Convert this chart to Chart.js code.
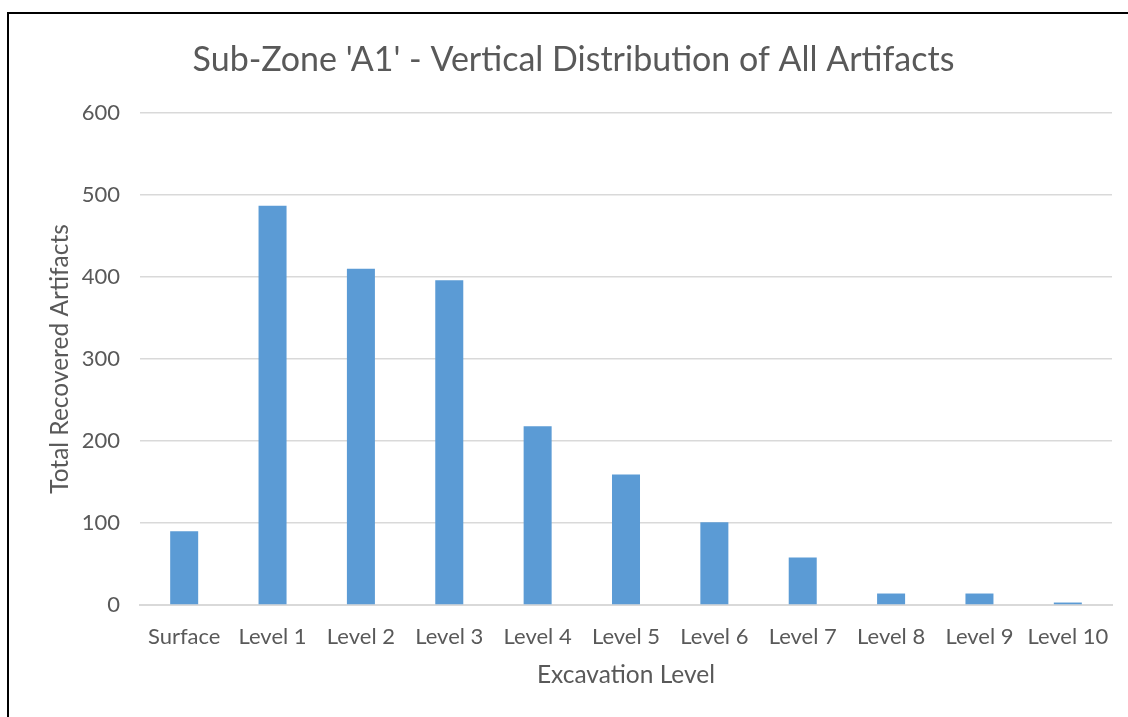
<!DOCTYPE html>
<html>
<head>
<meta charset="utf-8">
<script src="https://cdn.jsdelivr.net/npm/chart.js@4"></script>
<style>
  body { margin: 0; background: #fff; }
  #wrap { position: relative; width: 1128px; height: 717px; }
  #frame {
    position: absolute; left: 7px; top: 12px; right: -10px; bottom: -10px;
    border-left: 2px solid #000; border-top: 2px solid #000;
    pointer-events: none;
  }
  canvas { position: absolute; left: 0; top: 0; }
</style>
</head>
<body>
<div id="wrap">
  <canvas id="chart" width="1128" height="717"></canvas>
  <div id="frame"></div>
</div>
<script>
const levels = ["Surface", "Level 1", "Level 2", "Level 3", "Level 4", "Level 5",
  "Level 6", "Level 7", "Level 8", "Level 9", "Level 10"];
const artifactCounts = [90, 487, 410, 396, 218, 159, 101, 58, 14, 14, 3];
const yTicks = [0, 100, 200, 300, 400, 500, 600];

const textColor = "#595959";
const gridColor = "#d9d9d9";
const fontFamily = "Lato, 'Open Sans', sans-serif";

new Chart(document.getElementById("chart"), {
  type: "bar",
  data: {
    labels: levels,
    datasets: [{
      data: artifactCounts,
      backgroundColor: "#5b9bd5",
      categoryPercentage: 1,
      barPercentage: 0.317,
    }],
  },
  options: {
    responsive: false,
    animation: false,
    layout: { padding: { left: 35, right: 16, top: 0, bottom: 27 } },
    plugins: {
      legend: { display: false },
      tooltip: { enabled: false },
      title: {
        display: true,
        text: "Sub-Zone 'A1' - Vertical Distribution of All Artifacts",
        color: textColor,
        font: { family: fontFamily, size: 34, weight: "normal" },
        padding: { top: 40, bottom: 32.2 },
      },
    },
    scales: {
      x: {
        grid: { display: false, drawTicks: false },
        border: { display: true, color: gridColor, width: 2 },
        ticks: { color: textColor, font: { family: fontFamily, size: 22 }, padding: 19, maxRotation: 0 },
        title: {
          display: true,
          text: "Excavation Level",
          color: textColor,
          font: { family: fontFamily, size: 24.5 },
          padding: { top: 0, bottom: 0 },
        },
        afterFit: (axis) => { axis.height = 85; },
      },
      y: {
        min: 0,
        max: 600,
        afterBuildTicks: (axis) => { axis.ticks = yTicks.map((v) => ({ value: v })); },
        grid: { color: gridColor, lineWidth: 1.5, drawTicks: false },
        border: { display: false },
        ticks: { color: textColor, font: { family: fontFamily, size: 22 }, padding: 20 },
        title: {
          display: true,
          text: "Total Recovered Artifacts",
          color: textColor,
          font: { family: fontFamily, size: 24.5 },
          padding: { top: 10, bottom: 0 },
        },
        afterFit: (axis) => { axis.width = 105; },
      },
    },
  },
});
</script>
</body>
</html>
